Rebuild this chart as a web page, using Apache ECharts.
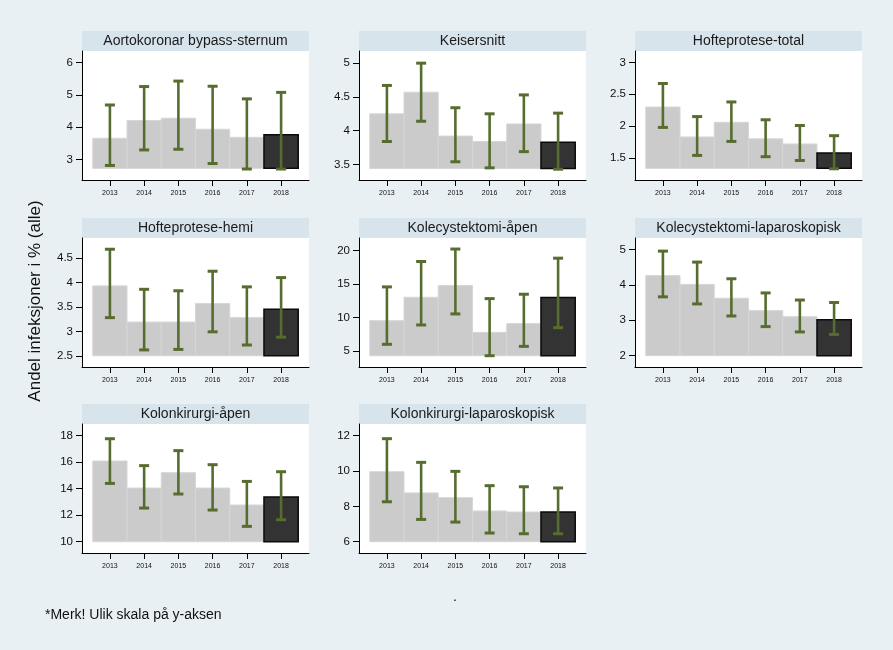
<!DOCTYPE html>
<html>
<head>
<meta charset="utf-8">
<script src="https://cdn.jsdelivr.net/npm/echarts@6/dist/echarts.min.js"></script>
<style>
html,body{margin:0;padding:0;background:#e9f0f3;}
#chart{width:893px;height:650px;}
</style>
</head>
<body>
<div id="chart"></div>
<script>
// ---------- data ----------
const years = [2013, 2014, 2015, 2016, 2017, 2018];

const panelTitles = [
  'Aortokoronar bypass-sternum', 'Keisersnitt', 'Hofteprotese-total',
  'Hofteprotese-hemi', 'Kolecystektomi-åpen', 'Kolecystektomi-laparoskopisk',
  'Kolonkirurgi-åpen', 'Kolonkirurgi-laparoskopisk'
];

const aortRate = [3.66, 4.21, 4.28, 3.94, 3.69, 3.77];
const aortLow  = [2.82, 3.30, 3.32, 2.88, 2.71, 2.71];
const aortHigh = [4.69, 5.26, 5.43, 5.27, 4.88, 5.08];

const keisRate = [4.25, 4.57, 3.92, 3.84, 4.10, 3.83];
const keisLow  = [3.84, 4.14, 3.54, 3.45, 3.69, 3.43];
const keisHigh = [4.67, 5.00, 4.34, 4.25, 4.53, 4.26];

const hoftTotRate = [2.30, 1.83, 2.06, 1.80, 1.72, 1.58];
const hoftTotLow  = [1.98, 1.54, 1.76, 1.52, 1.46, 1.33];
const hoftTotHigh = [2.67, 2.15, 2.38, 2.10, 2.01, 1.85];

const hoftHemiRate = [3.93, 3.19, 3.19, 3.57, 3.28, 3.45];
const hoftHemiLow  = [3.28, 2.62, 2.63, 2.99, 2.72, 2.88];
const hoftHemiHigh = [4.68, 3.86, 3.83, 4.23, 3.91, 4.10];

const kolAapRate = [9.55, 13.03, 14.77, 7.81, 9.11, 12.98];
const kolAapLow  = [6.03, 8.91, 10.55, 4.34, 5.73, 8.51];
const kolAapHigh = [14.57, 18.35, 20.20, 12.83, 13.48, 18.84];

const kolLapRate = [4.26, 4.01, 3.62, 3.27, 3.10, 3.01];
const kolLapLow  = [3.66, 3.46, 3.12, 2.82, 2.67, 2.60];
const kolLapHigh = [4.95, 4.64, 4.17, 3.77, 3.57, 3.50];

const kolonAapRate = [16.09, 14.05, 15.21, 14.05, 12.77, 13.37];
const kolonAapLow  = [14.40, 12.54, 13.60, 12.39, 11.16, 11.66];
const kolonAapHigh = [17.77, 15.74, 16.87, 15.81, 14.55, 15.28];

const kolonLapRate = [9.96, 8.76, 8.49, 7.74, 7.68, 7.68];
const kolonLapLow  = [8.26, 7.26, 7.11, 6.49, 6.45, 6.45];
const kolonLapHigh = [11.83, 10.49, 9.98, 9.17, 9.11, 9.04];

// bar base values per panel (as drawn)
const barBase = [2.73, 3.44, 1.337, 2.5, 4.34, 2.0, 10, 6];

// y-axis ranges and tick labels per panel
const yMin = [2.37, 3.27, 1.154, 2.27, 2.66, 1.68, 9.15, 5.36];
const yMax = [6.36, 5.18, 3.18, 4.91, 21.84, 5.32, 18.88, 12.66];
const yTicks = [
  [3, 4, 5, 6],
  [3.5, 4, 4.5, 5],
  [1.5, 2, 2.5, 3],
  [2.5, 3, 3.5, 4, 4.5],
  [5, 10, 15, 20],
  [2, 3, 4, 5],
  [10, 12, 14, 16, 18],
  [6, 8, 10, 12]
];

const rates = [aortRate, keisRate, hoftTotRate, hoftHemiRate, kolAapRate, kolLapRate, kolonAapRate, kolonLapRate];
const lows  = [aortLow, keisLow, hoftTotLow, hoftHemiLow, kolAapLow, kolLapLow, kolonAapLow, kolonLapLow];
const highs = [aortHigh, keisHigh, hoftTotHigh, hoftHemiHigh, kolAapHigh, kolLapHigh, kolonAapHigh, kolonLapHigh];

const yAxisTitle = 'Andel infeksjoner i % (alle)';
const footnote = '*Merk! Ulik skala på y-aksen';

// ---------- layout ----------
const FONT = '"Liberation Sans", Arial, Helvetica, sans-serif';
const colLeft = [82, 359, 635];
const rowTop = [51, 238, 424];
const plotW = 227, plotH = 129, bandH = 20;
const xMin = 2012.185, xMax = 2018.815;

const grids = [], xAxes = [], yAxes = [], series = [], graphics = [];

for (let p = 0; p < 8; p++) {
  const c = p % 3, r = Math.floor(p / 3);
  const left = colLeft[c], top = rowTop[r];
  grids.push({ left: left, top: top, width: plotW, height: plotH, show: true,
    backgroundColor: '#ffffff', borderWidth: 0, containLabel: false });
  xAxes.push({
    gridIndex: p, type: 'value', min: xMin, max: xMax,
    axisLine: { show: true, lineStyle: { color: '#000', width: 1 } },
    axisTick: { show: true, length: 6, customValues: years, lineStyle: { color: '#000' } },
    axisLabel: { show: true, customValues: years, fontSize: 7, color: '#111', margin: 10,
      fontFamily: FONT, formatter: v => String(v) },
    splitLine: { show: false }
  });
  yAxes.push({
    gridIndex: p, type: 'value', min: yMin[p], max: yMax[p],
    axisLine: { show: true, lineStyle: { color: '#000', width: 1 } },
    axisTick: { show: true, length: 6, customValues: yTicks[p], lineStyle: { color: '#000' } },
    axisLabel: { show: true, customValues: yTicks[p], fontSize: 11.5, color: '#111', margin: 9,
      fontFamily: FONT, formatter: v => String(v) },
    splitLine: { show: false }
  });

  const base = barBase[p];
  const barData = years.map((y, i) => [y, rates[p][i], i === years.length - 1 ? 1 : 0]);
  series.push({
    type: 'custom', xAxisIndex: p, yAxisIndex: p, clip: false,
    data: barData,
    renderItem: function (params, api) {
      const y = api.value(0), v = api.value(1), dark = api.value(2) === 1;
      const a = api.coord([y - 0.5, v]);
      const b = api.coord([y + 0.5, base]);
      return {
        type: 'rect',
        shape: { x: a[0], y: a[1], width: b[0] - a[0], height: b[1] - a[1] },
        style: dark ? { fill: '#333333', stroke: '#0a0a0a', lineWidth: 1.5 }
                    : { fill: '#cbcbcb', stroke: '#d6d6d6', lineWidth: 1 }
      };
    },
    z: 2
  });
  const errData = years.map((y, i) => [y, lows[p][i], highs[p][i]]);
  series.push({
    type: 'custom', xAxisIndex: p, yAxisIndex: p, clip: false,
    data: errData,
    renderItem: function (params, api) {
      const y = api.value(0);
      const lo = api.coord([y, api.value(1)]);
      const hi = api.coord([y, api.value(2)]);
      const hw = 5;
      const col = '#566d2f';
      return {
        type: 'group',
        children: [
          { type: 'line', shape: { x1: lo[0], y1: lo[1], x2: hi[0], y2: hi[1] },
            style: { stroke: col, lineWidth: 2.6 } },
          { type: 'line', shape: { x1: hi[0] - hw, y1: hi[1], x2: hi[0] + hw, y2: hi[1] },
            style: { stroke: col, lineWidth: 3 } },
          { type: 'line', shape: { x1: lo[0] - hw, y1: lo[1], x2: lo[0] + hw, y2: lo[1] },
            style: { stroke: col, lineWidth: 3 } }
        ]
      };
    },
    z: 3
  });

  // strip title band
  graphics.push({
    type: 'rect', left: left, top: top - bandH,
    shape: { width: plotW, height: bandH },
    style: { fill: '#d8e4eb' }, silent: true
  });
  graphics.push({
    type: 'text', x: left + plotW / 2, y: top - bandH / 2,
    style: { text: panelTitles[p], font: '14px ' + FONT, fill: '#1a1a1a',
      textAlign: 'center', textVerticalAlign: 'middle' }, silent: true
  });
}

graphics.push({
  type: 'text', x: 35, y: 301, rotation: Math.PI / 2,
  style: { text: yAxisTitle, font: '17px ' + FONT, fill: '#111',
    textAlign: 'center', textVerticalAlign: 'middle' }
});
graphics.push({
  type: 'text', x: 45, y: 615,
  style: { text: footnote, font: '14px ' + FONT, fill: '#111',
    textAlign: 'left', textVerticalAlign: 'middle' }
});
graphics.push({
  type: 'text', x: 455, y: 597,
  style: { text: '.', font: '14px ' + FONT, fill: '#111',
    textAlign: 'center', textVerticalAlign: 'middle' }
});

const chart = echarts.init(document.getElementById('chart'), null, { renderer: 'canvas' });
chart.setOption({
  backgroundColor: '#e9f0f3',
  animation: false,
  grid: grids,
  xAxis: xAxes,
  yAxis: yAxes,
  series: series,
  graphic: graphics
});
</script>
</body>
</html>
